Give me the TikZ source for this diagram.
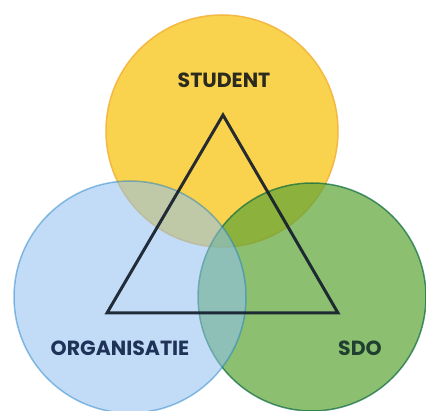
\documentclass[tikz,border=0pt]{standalone}
\usepackage{fontspec}
\setmainfont{Poppins}[BoldFont={* Bold}]
\definecolor{yelfill}{HTML}{FAD34E}
\definecolor{yeldraw}{HTML}{F5B843}
\definecolor{bluefill}{HTML}{90C1F2}
\definecolor{bluedraw}{HTML}{1078C3}
\definecolor{grnfill}{HTML}{5EA436}
\definecolor{grndraw}{HTML}{0A6A3E}
\definecolor{tridark}{HTML}{141E2C}
\definecolor{txtstudent}{HTML}{2B2A1F}
\definecolor{txtorg}{HTML}{1F3358}
\definecolor{txtsdo}{HTML}{1F4030}
\tikzset{
  ring/.style={circle, inner sep=0pt, line width=1.5pt},
  lbl/.style={font=\fontsize{20.5}{24}\selectfont\bfseries, inner sep=0pt},
}
\begin{document}
\begin{tikzpicture}[x=1pt,y=-1pt]
\useasboundingbox (0,0) rectangle (426,411);
\fill[white] (0,0) rectangle (426,411);
\node[ring, minimum size=232pt, fill=yelfill, draw=yeldraw] (student) at (222,131) {};
\node[ring, minimum size=228pt, fill=grnfill, draw=grndraw, fill opacity=0.7, draw opacity=0.7] (sdo) at (312,297) {};
\node[ring, minimum size=232pt, fill=bluefill, draw=bluedraw, fill opacity=0.55, draw opacity=0.45] (org) at (130,297) {};
\coordinate (top) at (223,115);
\coordinate (bl) at (107,313);
\coordinate (br) at (338,313);
\draw[tridark, line width=3pt, line join=miter, draw opacity=0.92] (top) -- (bl) -- (br) -- cycle;
\node[lbl, text=txtstudent] (tstudent) at (224,80) {STUDENT};
\node[lbl, text=txtorg] (torg) at (120,348) {ORGANISATIE};
\node[lbl, text=txtsdo] (tsdo) at (360,348) {SDO};
\end{tikzpicture}
\end{document}
